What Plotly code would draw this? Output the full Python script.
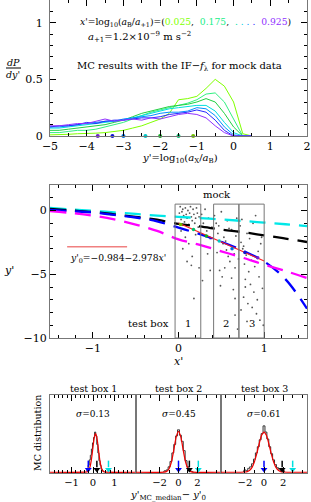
import plotly.graph_objects as go

# ---------------- data ----------------
# panel 1: dP/dy' curves for x' = 0.025 ... 0.925
yprime_grid = [-5, -4.75, -4.5, -4.25, -4, -3.75, -3.5, -3.25, -3, -2.75, -2.5, -2.25,
               -2, -1.75, -1.5, -1.25, -1, -0.75, -0.5, -0.25, 0, 0.25, 0.5]
xprime_labels = ["0.025", "0.175", "0.325", "0.475", "0.625", "0.775", "0.925"]
dPdy_1 = [0.01, 0.01, 0.015, 0.02, 0.02, 0.025, 0.03, 0.04, 0.05, 0.07, 0.09, 0.12, 0.15, 0.20, 0.32, 0.33, 0.35, 0.42, 0.50, 0.44, 0.30, 0.02, 0]
dPdy_2 = [0.03, 0.03, 0.04, 0.05, 0.05, 0.06, 0.08, 0.10, 0.12, 0.15, 0.18, 0.21, 0.23, 0.25, 0.27, 0.29, 0.32, 0.37, 0.38, 0.30, 0.15, 0.0, 0]
dPdy_3 = [0.05, 0.05, 0.06, 0.07, 0.08, 0.09, 0.10, 0.12, 0.14, 0.17, 0.20, 0.22, 0.24, 0.26, 0.27, 0.28, 0.30, 0.33, 0.30, 0.20, 0.08, 0, 0]
dPdy_4 = [0.07, 0.07, 0.08, 0.09, 0.10, 0.11, 0.12, 0.13, 0.14, 0.16, 0.18, 0.20, 0.22, 0.24, 0.25, 0.26, 0.27, 0.27, 0.22, 0.12, 0.03, 0, 0]
dPdy_5 = [0.08, 0.08, 0.09, 0.10, 0.11, 0.12, 0.13, 0.13, 0.15, 0.16, 0.17, 0.18, 0.20, 0.21, 0.21, 0.22, 0.25, 0.24, 0.18, 0.08, 0.01, 0, 0]
dPdy_6 = [0.08, 0.09, 0.09, 0.10, 0.12, 0.11, 0.13, 0.14, 0.14, 0.15, 0.16, 0.16, 0.17, 0.19, 0.20, 0.21, 0.23, 0.21, 0.14, 0.05, 0, 0, 0]
dPdy_7 = [0.09, 0.09, 0.10, 0.11, 0.11, 0.13, 0.15, 0.13, 0.14, 0.15, 0.14, 0.16, 0.15, 0.17, 0.19, 0.20, 0.19, 0.16, 0.09, 0.03, 0, 0, 0]
dPdy_all = [dPdy_1, dPdy_2, dPdy_3, dPdy_4, dPdy_5, dPdy_6, dPdy_7]
xprime_vals = [0.025, 0.175, 0.325, 0.475, 0.625, 0.775, 0.925]
median_yprime = [-1.1, -1.5, -2.0, -2.4, -3.0, -3.3, -3.7]

# panel 2: dashed model curves
curve_x = [-1.5, -1.25, -1, -0.75, -0.5, -0.25, 0, 0.25, 0.5, 0.75, 1, 1.25, 1.5]
cyan_y = [0.2, 0.08, -0.02, -0.15, -0.27, -0.4, -0.5, -0.6, -0.7, -0.82, -0.95, -1.08, -1.22]
black_y = [0.13, 0.0, -0.12, -0.3, -0.5, -0.72, -1.05, -1.25, -1.5, -1.7, -1.95, -2.2, -2.47]
blue_y = [0.05, -0.05, -0.15, -0.35, -0.55, -0.85, -1.35, -1.85, -2.45, -3.15, -4.0, -5.4, -7.7]
magenta_y = [-0.05, -0.2, -0.4, -0.7, -1.1, -1.6, -2.26, -2.7, -3.2, -3.7, -4.25, -4.75, -5.3]

fit_x = [0.0, 1.0]
fit_y = [-0.984, -3.962]
legend_seg_x = [-1.3, -0.6]
legend_seg_y = [-2.85, -2.85]

mock_x = [0.01, 0.02, 0.03, 0.04, 0.05, 0.06, 0.07, 0.08, 0.09, 0.10, 0.11, 0.12, 0.13, 0.14, 0.15, 0.16,
          0.17, 0.18, 0.19, 0.20, 0.21, 0.22, 0.23, 0.24,
          0.03, 0.08, 0.12, 0.05, 0.16, 0.15, 0.24, 0.18, 0.20, 0.10,
          0.27, 0.29, 0.31, 0.33, 0.35, 0.37, 0.30, 0.34, 0.37, 0.39, 0.28,
          0.42, 0.44, 0.46, 0.47, 0.48, 0.50, 0.51, 0.52, 0.53, 0.54, 0.55, 0.56, 0.57, 0.58, 0.59, 0.60,
          0.62, 0.62, 0.63, 0.64, 0.65, 0.66, 0.66, 0.66, 0.67, 0.68, 0.69, 0.70, 0.45, 0.49,
          0.72, 0.73, 0.74, 0.75, 0.76, 0.76, 0.77, 0.78, 0.78, 0.79, 0.80, 0.81, 0.82, 0.83, 0.84, 0.85,
          0.86, 0.87, 0.88, 0.89, 0.90, 0.91, 0.92, 0.93, 0.94, 0.95, 0.96, 0.97, 0.98, 0.99, 0.73, 0.80]
mock_y = [-0.2, 0.3, -0.7, -0.1, 0.1, -0.4, -0.9, 0.2, -0.3, -0.6, 0.0, -1.1, -0.2, 0.3, -0.5, -0.8,
          0.1, -0.3, -1.0, -0.6, 0.2, -0.2, -1.3, -0.5,
          -1.6, -2.1, -2.6, -3.0, -3.6, -4.3, -4.5, -6.9, -1.9, -4.0,
          -0.3, -1.0, 0.1, -1.6, -0.6, -2.2, -2.8, -3.4, -4.7, -1.3, -5.5,
          -0.4, -1.0, -1.8, -1.2, -4.7, -0.1, -5.2, -2.6, -2.1, -4.5, -2.4, -3.1, -0.8, -3.6, -1.4, -4.0,
          -1.5, -5.3, -2.9, -6.2, -3.4, -4.5, -6.9, -8.2, -2.0, -0.6, -9.3, -3.8, -3.3, -5.9,
          -1.2, -2.5, -0.7, -3.0, -2.8, -6.8, -4.2, -5.4, -6.0, -3.5, -1.8, -7.3, -4.8, -2.2, -5.8, -3.9,
          -7.6, -1.0, -6.4, -4.4, -0.4, -8.1, -7.0, -3.2, -5.2, -8.6, -2.6, -2.1, -6.1, -9.0, -7.8, -8.7]

box_edges = [[-0.04, 0.26], [0.41, 0.705], [0.705, 1.0]]
box_labels = ["1", "2", "3"]

# panel 3: MC distributions
sigma_vals = ["0.13", "0.45", "0.61"]
hist1_x = [-0.3, -0.25, -0.2, -0.15, -0.1, -0.05, 0.0, 0.05, 0.1, 0.15, 0.2, 0.25, 0.3, 0.35, 0.4, 0.45, 0.5]
hist1_y = [0.02, 0.05, 0.09, 0.16, 0.22, 0.30, 0.38, 0.45, 0.52, 0.47, 0.36, 0.25, 0.15, 0.09, 0.04, 0.02, 0.01]
hist2_x = [-1.6, -1.4, -1.2, -1.0, -0.8, -0.6, -0.4, -0.2, 0.0, 0.2, 0.4, 0.6, 0.8, 1.0, 1.2, 1.4, 1.6]
hist2_y = [0.01, 0.02, 0.03, 0.07, 0.14, 0.25, 0.36, 0.47, 0.55, 0.48, 0.40, 0.28, 0.15, 0.07, 0.03, 0.01, 0.0]
hist3_x = [-2.2, -2.0, -1.8, -1.6, -1.4, -1.2, -1.0, -0.8, -0.6, -0.4, -0.2, 0.0, 0.2, 0.4, 0.6, 0.8,
           1.0, 1.2, 1.4, 1.6, 1.8, 2.0, 2.2]
hist3_y = [0.01, 0.03, 0.02, 0.05, 0.07, 0.11, 0.17, 0.25, 0.33, 0.42, 0.50, 0.60, 0.52, 0.43, 0.33, 0.24,
           0.16, 0.10, 0.06, 0.04, 0.02, 0.03, 0.01]
fit1_x = [-2, -0.28, -0.23, -0.18, -0.13, -0.08, -0.03, 0.02, 0.07, 0.12, 0.17, 0.22, 0.27, 0.32, 0.37, 0.42, 0.47, 0.52, 2]
fit1_y = [0, 0.004, 0.013, 0.035, 0.079, 0.153, 0.257, 0.372, 0.464, 0.5, 0.464, 0.372, 0.257, 0.153, 0.079, 0.035, 0.013, 0.004, 0]
fit2_x = [-4.5, -1.5, -1.25, -1, -0.75, -0.5, -0.25, 0, 0.25, 0.5, 0.75, 1, 1.25, 1.5, 4.5]
fit2_y = [0, 0.002, 0.011, 0.045, 0.132, 0.286, 0.454, 0.53, 0.454, 0.286, 0.132, 0.045, 0.011, 0.002, 0]
fit3_x = [-4.5, -2, -1.75, -1.5, -1.25, -1, -0.75, -0.5, -0.25, 0, 0.25, 0.5, 0.75, 1, 1.25, 1.5, 1.75, 2, 4.5]
fit3_y = [0, 0.003, 0.008, 0.025, 0.063, 0.136, 0.244, 0.372, 0.478, 0.52, 0.478, 0.372, 0.244, 0.136, 0.063, 0.025, 0.008, 0.003, 0]
arrows_blue = [-0.22, 0.0, 0.0]
arrows_black = [0.18, 1.15, 1.9]
arrows_cyan = [0.72, 2.1, 3.0]

# ---------------- styling ----------------
W, H = 311, 502
def PX(x): return x / W
def PY(y): return 1 - y / H

FONT = "DejaVu Serif"
curve_colors = ['#80ff00', '#30f080', '#20d040', '#00dede', '#0090ff', '#2828ff', '#9030ff']
dot_colors = ['#70c000', '#00c070', '#10b020', '#00c8c8', '#0070e0', '#1010d0', '#7020d0']

fig = go.Figure()

# panel 1
for ys, c in zip(dPdy_all, curve_colors):
    fig.add_trace(go.Scatter(x=yprime_grid, y=ys, mode='lines', line=dict(color=c, width=1),
                             xaxis='x', yaxis='y', showlegend=False))
fig.add_trace(go.Scatter(x=median_yprime, y=[0] * len(median_yprime), mode='markers',
                         marker=dict(color=dot_colors, size=4), cliponaxis=False,
                         xaxis='x', yaxis='y', showlegend=False))

# panel 2
fig.add_trace(go.Scatter(x=mock_x, y=mock_y, mode='markers', marker=dict(color='#555', size=1.8),
                         xaxis='x2', yaxis='y2', showlegend=False))
for ys, c in [(cyan_y, '#00e8e8'), (black_y, '#000000'), (blue_y, '#0000ff'), (magenta_y, '#ff00ff')]:
    fig.add_trace(go.Scatter(x=curve_x, y=ys, mode='lines', line=dict(color=c, width=2.3, dash='16px,9px', shape='spline'),
                             xaxis='x2', yaxis='y2', showlegend=False))
fig.add_trace(go.Scatter(x=fit_x, y=fit_y, mode='lines', line=dict(color='#ff2020', width=1.2),
                         xaxis='x2', yaxis='y2', showlegend=False))
fig.add_trace(go.Scatter(x=xprime_vals, y=median_yprime, mode='markers', marker=dict(color=dot_colors, size=3.5),
                         xaxis='x2', yaxis='y2', showlegend=False))
fig.add_trace(go.Scatter(x=legend_seg_x, y=legend_seg_y, mode='lines', line=dict(color='#f08080', width=1.5),
                         xaxis='x2', yaxis='y2', showlegend=False))

# panel 3
ARROW_TOP, ARROW_TIP = 0.15, 0.035
hists = [(hist1_x, hist1_y, fit1_x, fit1_y), (hist2_x, hist2_y, fit2_x, fit2_y), (hist3_x, hist3_y, fit3_x, fit3_y)]
for i, (hx, hy, fx, fy) in enumerate(hists):
    xa, ya = 'x%d' % (i + 3), 'y%d' % (i + 3)
    fig.add_trace(go.Scatter(x=hx, y=hy, mode='lines', line=dict(color='#333', width=1, shape='hvh'),
                             xaxis=xa, yaxis=ya, showlegend=False))
    fig.add_trace(go.Scatter(x=fx, y=fy, mode='lines', line=dict(color='#ee0000', width=1.2, shape='spline', smoothing=0.6),
                             xaxis=xa, yaxis=ya, showlegend=False))
    for xv, col in [(arrows_blue[i], '#0000ff'), (arrows_black[i], '#000000'), (arrows_cyan[i], '#00e0e0')]:
        fig.add_trace(go.Scatter(x=[xv, xv], y=[ARROW_TOP, ARROW_TIP + 0.03], mode='lines',
                                 line=dict(color=col, width=1.5), xaxis=xa, yaxis=ya, showlegend=False))
        fig.add_trace(go.Scatter(x=[xv], y=[ARROW_TIP], mode='markers',
                                 marker=dict(symbol='triangle-down', size=6, color=col),
                                 xaxis=xa, yaxis=ya, showlegend=False))

def ax(domain, rng, dtick, minor, anchor, show=True, tickvals=None, ticktext=None, fsize=11):
    d = dict(domain=domain, range=rng, showline=True, linecolor='#777', linewidth=1, mirror='allticks',
             ticks='inside', ticklen=6, tickcolor='black', tickwidth=1, showgrid=False, zeroline=False,
             tickfont=dict(family=FONT, size=fsize, color='black'), anchor=anchor, showticklabels=show,
             automargin=False,
             minor=dict(ticks='inside', ticklen=3, tickcolor='black', dtick=minor, showgrid=False))
    if tickvals is not None:
        d['tickmode'] = 'array'; d['tickvals'] = tickvals
        if ticktext is not None:
            d['ticktext'] = ticktext
    else:
        d['dtick'] = dtick; d['tick0'] = 0
    return d

xd = [PX(50), PX(307)]
p1y = [PY(136), 1.0]
p2y = [PY(338), PY(185)]
p3y = [PY(473), PY(395)]
sub = [[PX(50), PX(136)], [PX(136), PX(221)], [PX(221), PX(307)]]

layout = dict(
    width=W, height=H, margin=dict(l=0, r=0, t=0, b=0, autoexpand=False),
    paper_bgcolor='white', plot_bgcolor='white', showlegend=False,
    font=dict(family=FONT, size=10, color='black'),
    xaxis=ax(xd, [-5, 2], 1, 0.5, 'y'),
    yaxis=ax(p1y, [0, 1.2], None, 0.1, 'x', tickvals=[0, 0.5, 1], ticktext=['0', '0.5', '1']),
    xaxis2=ax(xd, [-1.5, 1.5], 1, 0.2, 'y2'),
    yaxis2=ax(p2y, [-10, 2], 5, 1, 'x2'),
    xaxis3=ax(sub[0], [-2, 2], 1, 0.2, 'y3', tickvals=[-1, 0, 1], fsize=10),
    yaxis3=ax(p3y, [-0.01, 1], 0.5, 0.1, 'x3', show=False),
    xaxis4=ax(sub[1], [-4.5, 4.5], 2, 1, 'y4', tickvals=[-2, 0, 2], fsize=10),
    yaxis4=ax(p3y, [-0.01, 1], 0.5, 0.1, 'x4', show=False),
    xaxis5=ax(sub[2], [-4.5, 4.5], 2, 1, 'y5', tickvals=[-2, 0, 2], fsize=10),
    yaxis5=ax(p3y, [-0.01, 1], 0.5, 0.1, 'x5', show=False),
)
layout['yaxis']['ticklabelstandoff'] = 4
for k in ['yaxis3', 'yaxis4', 'yaxis5']:
    layout[k]['ticks'] = ''
    layout[k]['minor'] = dict(ticks='')
fig.update_layout(**layout)

ann = []
def A(text, x, y, xref='paper', yref='paper', xanchor='center', size=10, **kw):
    ann.append(dict(text=text, x=x, y=y, xref=xref, yref=yref, xanchor=xanchor, yanchor='middle',
                    showarrow=False, font=dict(family=FONT, size=size, color=kw.pop('color', 'black')), **kw))

# panel 1 texts
dots = "".join("<span style='color:%s'>.</span> " % c for c in ['#00e0a0', '#00d0e0', '#0090ff', '#2828ff'])
A("<i>x'</i>=log<sub>10</sub>(<i>a</i><sub>B</sub>/<i>a</i><sub>+1</sub>)=(<span style='color:#80ff00'>0.025</span>,  "
  "<span style='color:#20ee88'>0.175</span>,  " + dots + " <span style='color:#9030ff'>0.925</span>)",
  PX(78), PY(23), xanchor='left', size=9.2)
A("<i>a</i><sub>+1</sub>=1.2×10<sup>−9</sup> m s<sup>−2</sup>", PX(86), PY(37), xanchor='left', size=10)
A("MC results with the IF−<i>f</i><sub>λ</sub> for mock data", PX(75), PY(66), xanchor='left', size=10)
A("<i>dP</i>", PX(13), PY(62), size=9.5)
A("<i>dy'</i>", PX(13), PY(75), size=9.5)
A("<i>y'</i>=log<sub>10</sub>(<i>a</i><sub>X</sub>/<i>a</i><sub>B</sub>)", PX(180), PY(159), size=10)

# panel 2 texts
A("<i>y'</i>", PX(9), PY(270), size=11)
A("<i>x'</i>", PX(178), PY(361), size=11)
A("mock", 0.45, 1.25, xref='x2', yref='y2', size=10)
A("test box", -0.09, -8.85, xref='x2', yref='y2', xanchor='right', size=10)
for (e0, e1), lab in zip(box_edges, box_labels):
    A(lab, (e0 + e1) / 2, -8.85, xref='x2', yref='y2', size=10)
A("<i>y'</i><sub>0</sub>=−0.984−2.978<i>x'</i>", -1.29, -3.8, xref='x2', yref='y2', xanchor='left', size=9.2)

# panel 3 texts
for i, s in enumerate(sigma_vals):
    xa, ya = 'x%d' % (i + 3), 'y%d' % (i + 3)
    A("test box %d" % (i + 1), (sub[i][0] + sub[i][1]) / 2, PY(388), size=9.5)
    A("<i>σ</i>=" + s, 0.0, 0.76, xref=xa, yref=ya, size=9)
A("MC distribution", PX(37), PY(433), size=9.5, textangle=-90)
A("<i>y'</i><sub>MC_median</sub>− <i>y'</i><sub>0</sub>", PX(168), PY(495), size=10)
fig.update_layout(annotations=ann)

shapes = [dict(type='line', xref='paper', yref='paper', x0=PX(6), x1=PX(21), y0=PY(68), y1=PY(68),
               line=dict(color='black', width=1))]
for e0, e1 in box_edges:
    shapes.append(dict(type='rect', xref='x2', yref='y2', x0=e0, x1=e1, y0=-10, y1=0.5,
                       line=dict(color='#777', width=1)))
fig.update_layout(shapes=shapes)

fig.write_html("out.html", config={'displayModeBar': False},
               post_script="document.body.style.margin='0px';document.body.style.overflow='hidden';")
